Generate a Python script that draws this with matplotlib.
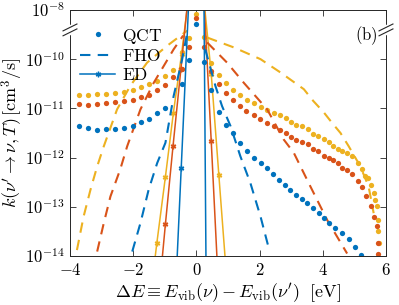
import numpy as np
import matplotlib
matplotlib.use('Agg')
import matplotlib.pyplot as plt
from matplotlib.lines import Line2D

plt.rcParams['mathtext.fontset'] = 'cm'
plt.rcParams['font.family'] = 'serif'
plt.rcParams['font.serif'] = ['DejaVu Serif']

blue = '#0072BD'
orange = '#D95319'
yellow = '#EDB120'

# QCT, left branch (log10 k)
qct_left_x = [-3.70, -3.42, -3.13, -2.86, -2.57, -2.29, -2.01, -1.74, -1.49, -1.25, -0.98, -0.73, -0.47, -0.24]
qct_blue_left_x = [-3.70, -3.42, -3.13, -2.86, -2.57, -2.29, -2.01, -1.74, -1.49, -1.25, -0.98, -0.47, -0.24]
qct_blue_left = [-11.36, -11.40, -11.43, -11.41, -11.41, -11.39, -11.35, -11.28, -11.22, -11.10, -10.99, -10.51, -10.02]
qct_orange_left = [-10.92, -10.93, -10.92, -10.90, -10.88, -10.85, -10.82, -10.77, -10.73, -10.63, -10.52, -10.36, -10.20, -9.76]
qct_yellow_left = [-10.73, -10.73, -10.71, -10.70, -10.68, -10.66, -10.63, -10.56, -10.50, -10.44, -10.34, -10.21, -9.85, -9.56]

# QCT, elastic (shown in the broken part of the axis)
qct_zero = {'blue': -9.29, 'orange': -9.16, 'yellow': -9.08}

# QCT, right branch
qct_blue_right_x = [0.25, 0.47, 0.71, 0.95, 1.16, 1.38, 1.60, 1.82, 2.03, 2.22, 2.41, 2.60, 2.79, 2.97, 3.15, 3.34,
                    3.50, 3.68, 3.87, 4.05, 4.21, 4.40, 4.61, 4.82, 5.03, 5.21]
qct_blue_right = [-10.05, -10.62, -11.07, -11.33, -11.51, -11.70, -11.87, -12.00, -12.11, -12.22, -12.33, -12.45,
                  -12.55, -12.65, -12.76, -12.84, -12.93, -13.03, -13.13, -13.23, -13.33, -13.44, -13.54, -13.66,
                  -13.81, -13.98]
qct_orange_right_x = [0.25, 0.47, 0.71, 0.94, 1.16, 1.37, 1.58, 1.81, 2.00, 2.22, 2.45, 2.66, 2.84, 2.99, 3.16, 3.34,
                      3.52, 3.69, 3.85, 4.03, 4.19, 4.33, 4.47, 4.61, 4.77, 4.93, 5.11, 5.24, 5.38, 5.51, 5.63,
                      5.70, 5.74, 5.75]
qct_orange_right = [-9.75, -10.24, -10.51, -10.69, -10.83, -10.95, -11.06, -11.14, -11.22, -11.29, -11.36, -11.43,
                    -11.50, -11.58, -11.65, -11.69, -11.73, -11.82, -11.87, -11.96, -12.01, -12.04, -12.12, -12.21,
                    -12.26, -12.33, -12.48, -12.60, -12.79, -12.98, -13.20, -13.40, -13.74, -13.95]
qct_yellow_right_x = [0.25, 0.47, 0.71, 0.94, 1.16, 1.39, 1.60, 1.81, 2.03, 2.24, 2.45, 2.66, 2.84, 2.99, 3.16, 3.34,
                      3.52, 3.69, 3.85, 4.03, 4.19, 4.33, 4.47, 4.61, 4.77, 4.93, 5.11, 5.24, 5.35, 5.42, 5.51,
                      5.63, 5.66, 5.70, 5.74, 5.75, 5.77]
qct_yellow_right = [-9.55, -10.07, -10.33, -10.49, -10.63, -10.73, -10.82, -10.90, -10.97, -11.03, -11.09, -11.14,
                    -11.19, -11.28, -11.33, -11.36, -11.41, -11.52, -11.57, -11.63, -11.69, -11.76, -11.82, -11.87,
                    -11.90, -11.97, -12.10, -12.24, -12.38, -12.41, -12.55, -12.72, -12.86, -12.99, -13.27, -13.50,
                    -13.74]

# FHO
fho_yellow_left_x = [-3.78, -3.57, -3.35, -3.14, -2.93, -2.51, -2.09, -1.56, -0.93, -0.29]
fho_yellow_left = [-13.88, -13.20, -12.65, -12.18, -11.77, -11.02, -10.54, -10.07, -9.73, -9.42]
fho_yellow_right_x = [0.34, 0.76, 1.18, 2.03, 2.66, 3.40, 3.70, 4.03, 4.30, 4.56, 4.82, 5.19, 5.45, 5.61]
fho_yellow_right = [-9.56, -9.66, -9.76, -10.00, -10.27, -10.61, -10.85, -11.08, -11.30, -11.50, -11.77, -12.18,
                    -12.59, -13.13]
fho_orange_left_x = [-3.14, -2.93, -2.72, -2.41, -2.19, -1.77, -1.35, -0.72, -0.42]
fho_orange_left = [-13.91, -13.33, -12.79, -12.24, -11.77, -11.02, -10.48, -9.80, -9.52]
fho_orange_right_x = [0.34, 0.97, 1.50, 2.24, 2.76, 3.08, 3.61, 4.14, 4.77]
fho_orange_right = [-9.66, -10.07, -10.48, -11.02, -11.63, -11.90, -12.59, -13.27, -13.95]
fho_blue_left_x = [-2.03, -1.77, -1.51, -1.24, -0.98, -0.72, -0.45, -0.29]
fho_blue_left = [-13.91, -13.33, -12.65, -12.11, -11.70, -10.75, -10.00, -9.46]
fho_blue_right_x = [0.28, 0.60, 0.81, 1.08, 1.39, 1.71, 2.03, 2.29]
fho_blue_right = [-9.80, -10.54, -10.95, -11.36, -11.97, -12.52, -13.20, -13.84]

# ED
ed_blue_left_x = [-0.72, -0.48, -0.24]
ed_blue_left = [-15.6, -12.21, -8.8]
ed_blue_right_x = [0.24, 0.47]
ed_blue_right = [-8.8, -28.0]
ed_orange_left_x = [-1.22, -0.98, -0.74, -0.49, -0.24]
ed_orange_left = [-15.0, -13.35, -11.77, -10.20, -8.6]
ed_orange_right_x = [0.24, 0.47, 0.71]
ed_orange_right = [-8.8, -11.67, -14.8]
ed_yellow_left_x = [-1.49, -1.25, -0.98, -0.73, -0.47, -0.24]
ed_yellow_left = [-15.0, -13.73, -12.39, -11.10, -9.90, -8.7]
ed_yellow_right_x = [0.24, 0.47, 0.71, 0.94]
ed_yellow_right = [-8.8, -10.30, -12.35, -14.3]

yticks = [-14, -13, -12, -11, -10, -9]
ytick_labels = ['$10^{-14}$', '$10^{-13}$', '$10^{-12}$', '$10^{-11}$', '$10^{-10}$', '$10^{-8}$']
xticks = [-4, -2, 0, 2, 4, 6]

fig = plt.figure(figsize=(3.99, 3.05), dpi=100)
ax = fig.add_axes([0.1754, 0.1607, 0.792, 0.8066])

dash = (0, (5, 3.5))
ed_marker = (6, 2, 0)

series = [
    (yellow, qct_left_x, qct_yellow_left, qct_yellow_right_x, qct_yellow_right, 'yellow',
     fho_yellow_left_x, fho_yellow_left, fho_yellow_right_x, fho_yellow_right,
     ed_yellow_left_x, ed_yellow_left, ed_yellow_right_x, ed_yellow_right),
    (orange, qct_left_x, qct_orange_left, qct_orange_right_x, qct_orange_right, 'orange',
     fho_orange_left_x, fho_orange_left, fho_orange_right_x, fho_orange_right,
     ed_orange_left_x, ed_orange_left, ed_orange_right_x, ed_orange_right),
    (blue, qct_blue_left_x, qct_blue_left, qct_blue_right_x, qct_blue_right, 'blue',
     fho_blue_left_x, fho_blue_left, fho_blue_right_x, fho_blue_right,
     ed_blue_left_x, ed_blue_left, ed_blue_right_x, ed_blue_right),
]

for s in series:
    c = s[0]
    qx = list(s[1]) + [0.0] + list(s[3])
    qy = list(s[2]) + [qct_zero[s[5]]] + list(s[4])
    ax.plot(qx, 10.0 ** np.array(qy), 'o', color=c, ms=3.8, mew=0, clip_on=True)
    ax.plot(s[6], 10.0 ** np.array(s[7]), color=c, lw=1.5, ls=dash)
    ax.plot(s[8], 10.0 ** np.array(s[9]), color=c, lw=1.5, ls=dash)
    ax.plot(s[10], 10.0 ** np.array(s[11]), color=c, lw=1.1, marker=ed_marker, ms=4, mew=1.0)
    ax.plot(s[12], 10.0 ** np.array(s[13]), color=c, lw=1.1, marker=ed_marker, ms=4, mew=1.0)

ax.set_yscale('log')
ax.set_xlim(-4, 6)
ax.set_ylim(1e-14, 1e-9)
ax.set_yticks([10.0 ** t for t in yticks])
ax.set_yticklabels(ytick_labels)
ax.yaxis.set_minor_locator(matplotlib.ticker.NullLocator())
ax.set_xticks(xticks)
ax.set_xticklabels(['$%d$' % t if t >= 0 else '$-%d$' % (-t) for t in xticks])
ax.tick_params(direction='in', top=True, right=True, labelsize=12, length=4, width=0.6,
               color='#262626', pad=4)
for sp in ax.spines.values():
    sp.set_linewidth(0.7)
    sp.set_color('#262626')

ax.set_xlabel(r"$\Delta E \equiv E_{\rm vib}(\nu) - E_{\rm vib}(\nu')\ \ [{\rm eV}]$", fontsize=13, labelpad=2)
ax.set_ylabel(r"$k(\nu' \to \nu, T)\,[{\rm cm}^3/{\rm s}]$", fontsize=13, labelpad=0)

handles = [
    Line2D([], [], color=blue, marker='o', ls='none', ms=3.8, mew=0),
    Line2D([], [], color=blue, lw=1.5, ls=dash),
    Line2D([], [], color=blue, lw=1.1, marker=ed_marker, ms=4, mew=1.0),
]
ax.legend(handles, [r'$\rm QCT$', r'$\rm FHO$', r'$\rm ED$'], loc='upper left', frameon=False,
          fontsize=12.5, handlelength=2.0, handletextpad=0.4, labelspacing=0.12,
          borderaxespad=0.2, bbox_to_anchor=(0.0, 0.975))

ax.text(0.975, 0.895, r'$(\rm b)$', transform=ax.transAxes, ha='right', va='center', fontsize=12)

# axis break marks
for xa in (0.0, 1.0):
    ax.plot([xa, xa], [0.905, 0.935], transform=ax.transAxes, color='white', lw=2.5,
            clip_on=False, zorder=5)
    for y0 in (0.895, 0.915):
        ax.plot([xa - 0.022, xa + 0.022], [y0, y0 + 0.028], transform=ax.transAxes,
                color='#262626', lw=0.8, clip_on=False, zorder=6)

fig.savefig('out.png', dpi=100)
